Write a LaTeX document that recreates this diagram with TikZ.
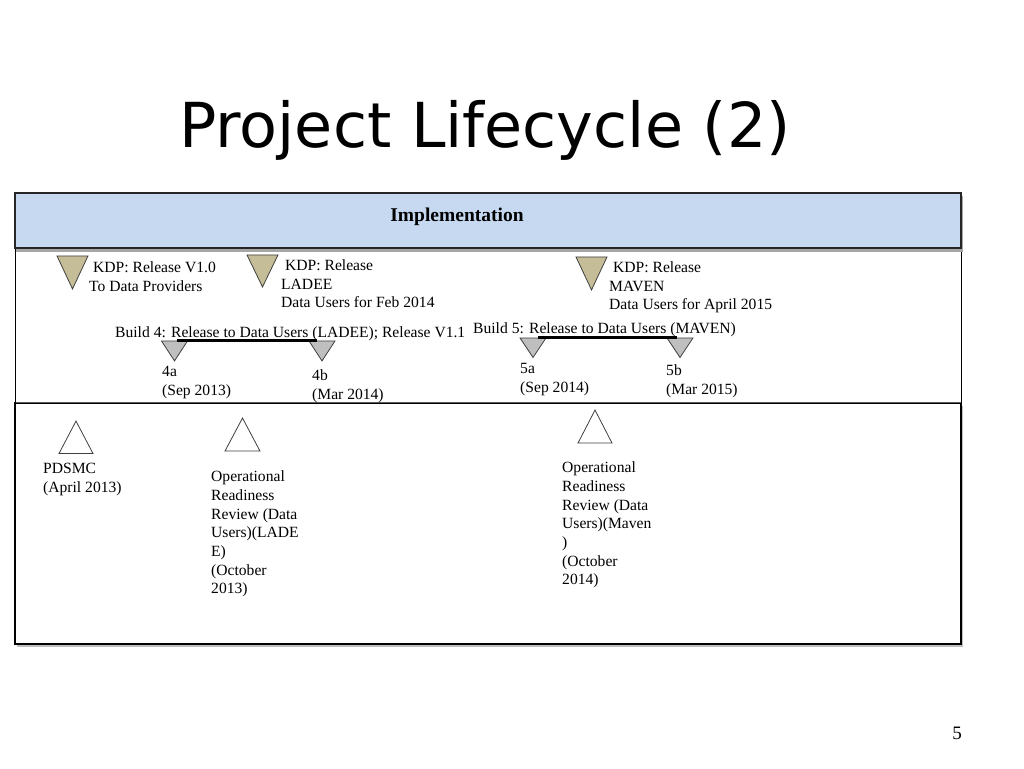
\documentclass[tikz,border=0pt]{standalone}
\usepackage{fontspec}
\setmainfont{Liberation Serif}
\newfontfamily\titlefont{DejaVu Sans}
\usepackage{tikz}
\usetikzlibrary{shapes.geometric}
\usetikzlibrary{positioning}
\definecolor{head blue}{HTML}{C6D9F1}
\definecolor{tan}{HTML}{C4BD97}
\definecolor{build gray}{HTML}{BFBFBF}
\definecolor{edge gray}{HTML}{3F3F3F}

\begin{document}
\begin{tikzpicture}[
  x=1pt, y=-1pt,
  milestone/.style={isosceles triangle,isosceles triangle stretches=true,draw=edge gray,line width=0.8pt,inner sep=0pt,anchor=apex},
  release/.style={milestone,fill=tan,shape border rotate=-90,minimum width=31pt,minimum height=33pt},
  build/.style={milestone,fill=build gray,shape border rotate=-90,minimum width=26pt,minimum height=19.5pt},
  review/.style={milestone,fill=white,shape border rotate=90,minimum width=34pt,minimum height=32.5pt},
  note/.style={anchor=north west,inner sep=0pt,align=left,font=\fontsize{15.6}{18.7}\selectfont},
  span/.style={line width=3pt},
]
  \useasboundingbox (0,0) rectangle (1024,768);

  \node[anchor=base,font=\titlefont\fontsize{62}{70}\selectfont] (title) at (485,147) {Project Lifecycle (2)};

  % frame
  \fill[black!25] (17,406) rectangle (963,646.5);
  \draw[line width=1.6pt,fill=white] (15,403) rectangle (961,644);
  \draw[black!65,line width=1.2pt] (15,403) -- (961,403);
  \draw[line width=0.9pt] (15,248) rectangle (961,403);
  \fill[black!35] (16,196) rectangle (963,251.5);
  \draw[draw=black!85,fill=head blue,line width=2.2pt] (15,193) rectangle (961,248);
  \node[anchor=base,font=\bfseries\fontsize{19.5}{22}\selectfont] (impl) at (457,221.7) {Implementation};

  % releases
  \node[release] (r1) at (72.5,290) {};
  \node[release,minimum height=32pt] (r2) at (262.5,288) {};
  \node[release] (r3) at (591.5,291) {};
  \node[note] (r1 text) at (89,261.4) {\hspace*{4pt}KDP: Release V1.0\\To Data Providers};
  \node[note] (r2 text) at (281,259.4) {\hspace*{4pt}KDP: Release\\LADEE\\Data Users for Feb 2014};
  \node[note] (r3 text) at (609,261.4) {\hspace*{4pt}KDP: Release\\MAVEN\\Data Users for April 2015};

  % builds
  \node[note] (b4 text) at (115,326.4) {Build 4: Release to Data Users (LADEE); Release V1.1};
  \node[note] (b5 text) at (473,322.4) {Build 5: Release to Data Users (MAVEN)};
  \node[build,minimum height=20pt] (b4a) at (174.5,362) {};
  \node[build,minimum height=20pt] (b4b) at (322,362) {};
  \node[build] (b5a) at (533,358.5) {};
  \node[build] (b5b) at (680,358.5) {};
  \draw[span,shorten <=2.5pt,shorten >=5pt] (b4a.north) -- (b4b.north);
  \draw[span,shorten <=5pt,shorten >=3pt] (b5a.north) -- (b5b.north);
  \node[note] (b4a text) at (162,366.4) {4a\\(Sep 2013)};
  \node[note] (b4b text) at (312,369.4) {4b\\(Mar 2014)};
  \node[note] (b5a text) at (520,363.4) {5a\\(Sep 2014)};
  \node[note] (b5b text) at (666,364.4) {5b\\(Mar 2015)};

  % reviews
  \node[review] (v1) at (76,420) {};
  \node[review,minimum width=35pt,minimum height=33pt] (v2) at (242.5,417) {};
  \node[review,minimum height=33pt] (v3) at (595,409) {};
  \node[note] (v1 text) at (43,463) {PDSMC\\(April 2013)};
  \node[note] (v2 text) at (211,470.6) {Operational\\Readiness\\Review (Data\\Users)(LADE\\E)\\(October\\2013)};
  \node[note] (v3 text) at (562,461.7) {Operational\\Readiness\\Review (Data\\Users)(Maven\\)\\(October\\2014)};

  \node[font=\fontsize{19}{22}\selectfont] (page) at (957,733) {5};
\end{tikzpicture}
\end{document}
